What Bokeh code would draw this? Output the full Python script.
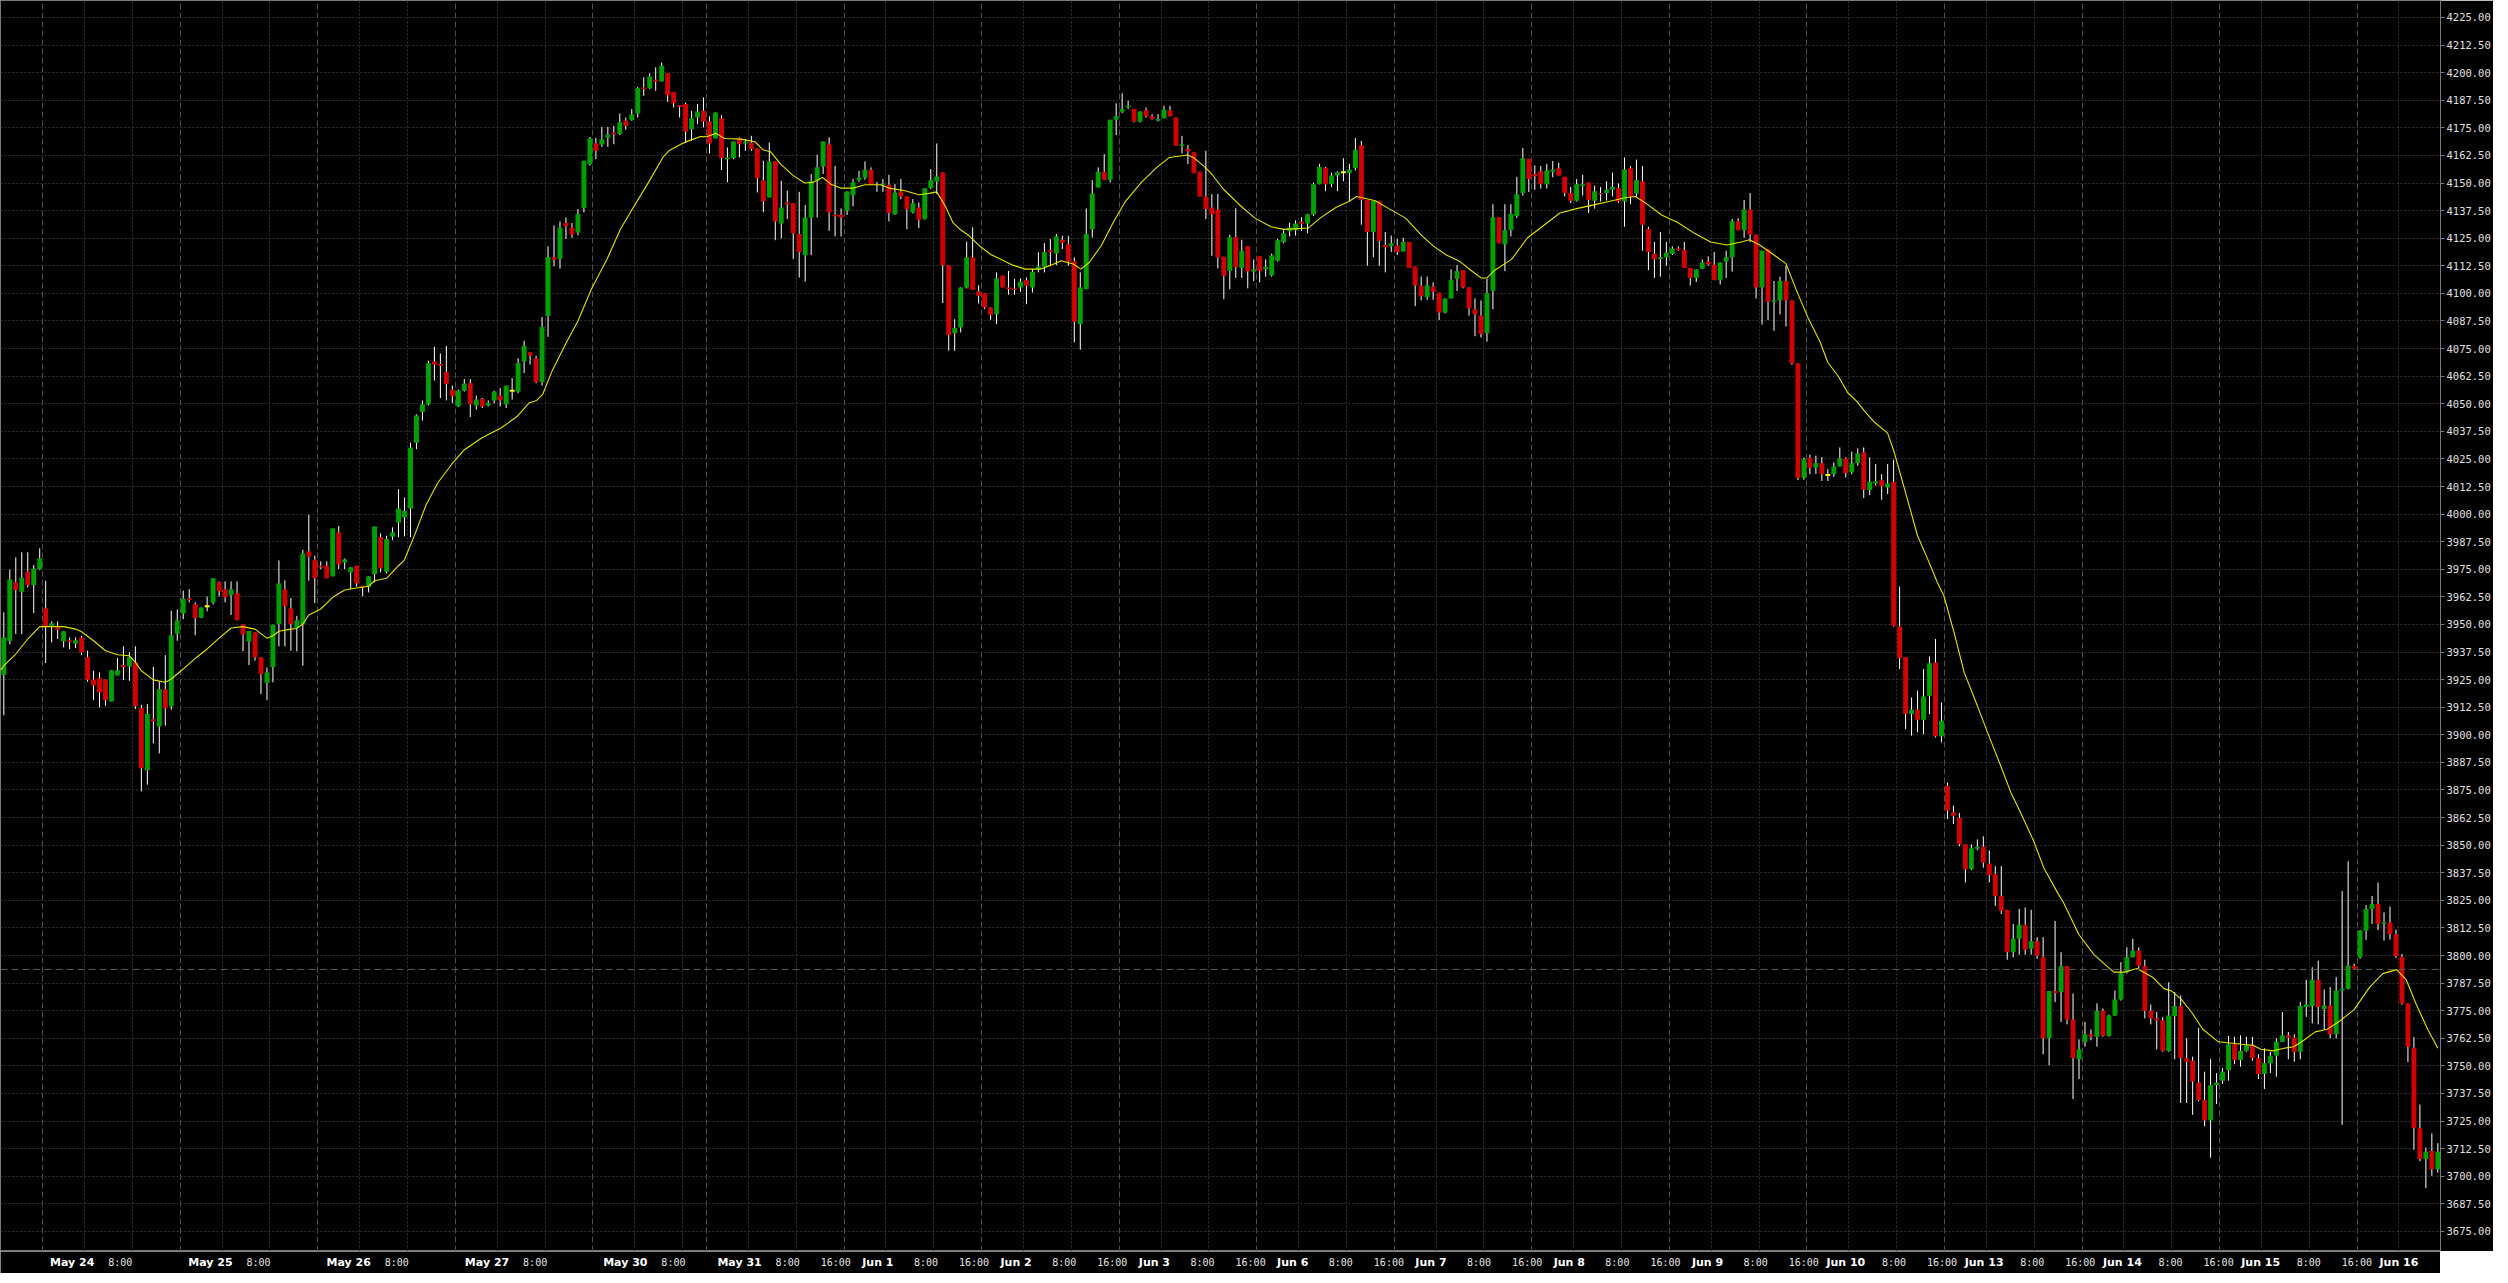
import numpy as np
from bokeh.plotting import figure
from bokeh.layouts import column
from bokeh.models import (ColumnDataSource, Range1d, FixedTicker, SingleIntervalTicker,
                          NumeralTickFormatter, Span)
from bokeh.core.properties import value
from bokeh.embed import file_html
from bokeh.resources import INLINE

# ---------------- data (hourly bars) ----------------
opens = [
3927.1, 3942.5, 3969.1, 3964.8, 3974.0, 3967.9, 3975.1, 3957.3, 3948.8, 3948.7,
3942.3, 3942.9, 3941.4, 3944.1, 3935.1, 3925.1, 3925.6, 3925.1, 3915.1, 3926.9,
3931.6, 3931.0, 3932.8, 3912.1, 3883.9, 3907.1, 3903.8, 3920.6, 3912.9, 3945.8,
3955.0, 3961.8, 3959.1, 3953.2, 3958.3, 3960.0, 3969.1, 3965.9, 3963.2, 3964.1,
3950.0, 3942.3, 3946.4, 3935.1, 3923.5, 3930.7, 3950.2, 3965.9, 3957.3, 3948.4,
3950.2, 3983.1, 3979.3, 3976.6, 3976.6, 3971.8, 3991.7, 3978.1, 3973.6, 3976.6,
3967.5, 3967.1, 3972.8, 3989.5, 3973.9, 3989.8, 3996.2, 3998.5, 4002.5, 4032.3,
4046.3, 4049.7, 4069.1, 4068.1, 4064.3, 4056.4, 4048.8, 4055.9, 4059.3, 4049.2,
4052.1, 4049.2, 4051.5, 4053.7, 4049.7, 4055.9, 4055.5, 4069.1, 4073.3, 4070.6,
4059.8, 4089.8, 4116.4, 4115.7, 4131.9, 4129.7, 4127.6, 4138.7, 4158.5, 4168.0,
4167.5, 4170.5, 4172.9, 4172.2, 4178.2, 4178.5, 4181.5, 4193.3, 4192.9, 4196.8,
4196.0, 4199.7, 4191.3, 4185.3, 4185.8, 4174.4, 4179.7, 4182.7, 4177.9, 4170.2,
4179.3, 4160.8, 4161.3, 4170.4, 4167.9, 4168.4, 4165.7, 4151.3, 4143.5, 4159.8,
4131.7, 4141.2, 4140.8, 4126.9, 4117.3, 4134.4, 4151.0, 4157.5, 4167.5, 4135.6,
4135.6, 4137.4, 4144.5, 4151.3, 4152.5, 4155.9, 4149.5, 4149.2, 4149.2, 4135.9,
4146.2, 4143.9, 4136.7, 4138.9, 4133.7, 4147.7, 4150.7, 4154.8, 4112.8, 4082.0,
4084.6, 4102.7, 4116.3, 4100.9, 4100.1, 4093.6, 4090.6, 4108.0, 4102.7, 4102.2,
4102.7, 4106.0, 4102.7, 4111.0, 4112.1, 4119.5, 4118.1, 4124.3, 4122.3, 4114.5,
4086.1, 4101.9, 4129.1, 4148.0, 4155.1, 4151.5, 4178.7, 4182.3, 4184.3, 4183.5,
4177.8, 4183.0, 4180.2, 4178.2, 4179.3, 4183.0, 4179.7, 4166.9, 4165.4, 4163.9,
4155.1, 4143.9, 4138.9, 4137.9, 4116.6, 4110.2, 4125.6, 4111.5, 4121.3, 4109.9,
4116.8, 4110.9, 4108.2, 4114.8, 4123.3, 4128.2, 4128.6, 4132.5, 4131.7, 4135.7,
4149.4, 4156.9, 4149.4, 4153.4, 4154.9, 4154.5, 4156.7, 4167.1, 4142.3, 4127.8,
4141.9, 4121.9, 4121.3, 4121.7, 4119.0, 4123.3, 4112.1, 4103.4, 4098.3, 4103.0,
4100.3, 4091.3, 4097.7, 4106.6, 4110.5, 4102.7, 4092.8, 4089.9, 4082.0, 4101.1,
4134.5, 4122.3, 4128.6, 4135.1, 4145.5, 4161.0, 4154.1, 4155.3, 4149.4, 4155.1,
4156.7, 4152.8, 4145.5, 4142.0, 4148.6, 4150.2, 4142.0, 4145.5, 4145.5, 4146.9,
4147.8, 4141.6, 4156.7, 4145.3, 4150.8, 4129.2, 4118.0, 4115.6, 4116.4, 4118.0,
4120.3, 4119.7, 4111.5, 4107.0, 4111.1, 4114.4, 4113.0, 4106.0, 4114.4, 4116.4,
4132.7, 4128.6, 4138.0, 4126.6, 4102.7, 4120.0, 4096.2, 4096.8, 4105.6, 4096.8,
4068.3, 4016.4, 4025.5, 4021.1, 4023.0, 4017.7, 4018.1, 4021.6, 4025.2, 4018.9,
4023.1, 4028.0, 4010.9, 4013.9, 4015.4, 4012.1, 4014.4, 3949.1, 3935.1, 3909.4,
3911.4, 3906.8, 3917.7, 3932.8, 3899.3, 3876.9, 3864.9, 3862.3, 3850.4, 3839.1,
3848.4, 3849.3, 3841.6, 3836.9, 3826.9, 3820.7, 3801.5, 3807.6, 3813.9, 3803.1,
3806.5, 3799.2, 3762.5, 3783.9, 3783.5, 3795.2, 3771.0, 3753.0, 3760.9, 3764.3,
3763.2, 3774.9, 3763.6, 3772.8, 3780.1, 3792.4, 3799.2, 3802.2, 3795.2, 3774.9,
3771.5, 3770.6, 3756.8, 3772.6, 3777.1, 3753.5, 3752.3, 3742.4, 3734.5, 3725.3,
3741.3, 3743.3, 3748.0, 3759.8, 3752.6, 3756.8, 3759.3, 3753.5, 3746.3, 3751.2,
3754.6, 3760.9, 3763.8, 3762.7, 3756.4, 3776.7, 3777.1, 3789.0, 3775.8, 3777.4,
3764.3, 3784.1, 3785.0, 3795.4, 3799.2, 3811.2, 3821.1, 3823.4, 3814.3, 3815.0,
3809.6, 3799.4, 3778.3, 3758.2, 3721.7, 3707.8, 3711.4, 3703.2]

highs = [
3955.5, 3974.8, 3980.4, 3982.7, 3982.7, 3976.9, 3984.5, 3969.8, 3951.4, 3951.4,
3946.9, 3944.1, 3944.1, 3944.9, 3938.1, 3929.0, 3928.3, 3925.1, 3929.2, 3934.8,
3940.1, 3937.4, 3940.1, 3913.6, 3913.9, 3930.8, 3924.2, 3936.1, 3956.2, 3956.7,
3965.3, 3966.0, 3960.0, 3957.7, 3962.7, 3970.9, 3969.5, 3969.5, 3969.5, 3969.5,
3950.0, 3947.0, 3946.4, 3935.1, 3930.5, 3949.9, 3979.0, 3970.0, 3962.0, 3953.9,
3983.9, 3999.7, 3981.2, 3978.6, 3978.6, 3993.5, 3994.7, 3979.9, 3975.9, 3976.6,
3967.5, 3971.8, 3994.4, 3991.3, 3990.2, 3994.0, 4011.3, 4007.5, 4032.3, 4045.2,
4051.5, 4069.5, 4075.8, 4072.8, 4076.2, 4058.2, 4056.4, 4061.2, 4061.2, 4053.7,
4052.6, 4051.5, 4055.9, 4057.1, 4058.2, 4061.6, 4070.6, 4078.5, 4073.3, 4071.7,
4089.3, 4121.3, 4130.8, 4132.6, 4134.4, 4131.9, 4138.2, 4160.1, 4170.9, 4170.5,
4175.4, 4175.4, 4175.9, 4181.5, 4179.7, 4183.5, 4193.6, 4197.8, 4199.7, 4202.4,
4204.6, 4199.7, 4191.3, 4185.3, 4186.5, 4182.7, 4185.8, 4188.8, 4180.2, 4182.0,
4180.8, 4166.1, 4168.8, 4170.7, 4169.9, 4171.4, 4165.7, 4160.1, 4168.4, 4159.8,
4151.0, 4146.5, 4140.8, 4146.0, 4140.0, 4154.1, 4162.8, 4168.8, 4170.7, 4157.8,
4138.5, 4146.2, 4151.8, 4155.5, 4159.8, 4157.1, 4150.6, 4151.8, 4153.7, 4149.5,
4151.8, 4143.9, 4142.7, 4141.2, 4147.6, 4156.3, 4167.9, 4154.8, 4112.8, 4088.3,
4102.7, 4123.4, 4129.9, 4103.7, 4100.1, 4093.6, 4109.5, 4108.0, 4110.2, 4106.5,
4106.8, 4107.2, 4111.0, 4118.6, 4122.8, 4124.6, 4126.9, 4126.1, 4126.1, 4116.3,
4109.5, 4138.5, 4151.3, 4157.1, 4163.1, 4178.7, 4186.1, 4190.6, 4187.3, 4183.5,
4182.4, 4184.2, 4181.2, 4181.2, 4185.0, 4185.0, 4179.7, 4171.4, 4167.2, 4163.9,
4155.1, 4164.6, 4145.0, 4145.0, 4116.6, 4126.6, 4138.6, 4124.3, 4121.3, 4115.4,
4116.8, 4115.4, 4118.0, 4124.7, 4128.6, 4132.1, 4133.1, 4134.5, 4136.1, 4150.2,
4158.7, 4157.3, 4154.7, 4155.3, 4161.2, 4158.7, 4170.4, 4169.1, 4142.3, 4141.9,
4141.9, 4127.8, 4126.2, 4124.7, 4125.2, 4123.3, 4112.1, 4107.6, 4107.6, 4105.0,
4100.3, 4097.7, 4110.9, 4112.9, 4110.5, 4102.7, 4097.7, 4096.8, 4106.6, 4140.4,
4134.5, 4140.4, 4140.4, 4152.8, 4165.9, 4161.0, 4158.0, 4157.7, 4158.7, 4160.0,
4159.2, 4152.8, 4148.2, 4151.8, 4153.7, 4150.2, 4148.8, 4148.2, 4150.8, 4154.7,
4149.8, 4161.6, 4157.7, 4160.6, 4157.7, 4130.2, 4123.3, 4127.8, 4123.3, 4121.3,
4121.3, 4123.3, 4111.5, 4110.9, 4115.4, 4116.8, 4118.8, 4114.0, 4119.3, 4133.7,
4134.1, 4142.3, 4145.5, 4126.6, 4119.3, 4120.0, 4105.6, 4107.6, 4112.5, 4096.8,
4068.3, 4025.6, 4026.9, 4026.5, 4025.8, 4020.4, 4023.4, 4030.2, 4025.7, 4028.3,
4029.8, 4030.2, 4025.7, 4022.7, 4018.1, 4022.7, 4024.6, 3967.2, 3935.1, 3916.9,
3920.0, 3929.8, 3935.5, 3943.4, 3914.7, 3878.4, 3867.9, 3864.6, 3850.4, 3850.4,
3852.6, 3854.0, 3847.7, 3840.5, 3840.5, 3820.7, 3814.3, 3821.1, 3821.8, 3820.7,
3808.3, 3808.3, 3783.9, 3815.7, 3801.5, 3795.2, 3782.8, 3762.0, 3769.9, 3766.5,
3778.3, 3776.0, 3773.3, 3784.1, 3797.0, 3803.7, 3807.6, 3803.7, 3798.1, 3777.8,
3774.4, 3772.2, 3787.9, 3783.5, 3781.9, 3762.5, 3754.2, 3767.2, 3747.4, 3753.0,
3746.7, 3749.0, 3763.6, 3763.2, 3763.9, 3763.2, 3763.2, 3755.3, 3758.0, 3756.4,
3762.5, 3774.4, 3765.4, 3764.3, 3778.9, 3789.0, 3794.7, 3797.7, 3784.6, 3785.7,
3790.2, 3829.2, 3842.7, 3796.3, 3811.6, 3822.9, 3827.0, 3833.1, 3819.5, 3822.2,
3811.7, 3800.7, 3778.3, 3763.0, 3732.5, 3713.0, 3719.4, 3715.0]

lows = [
3908.9, 3941.0, 3945.7, 3945.6, 3966.8, 3955.2, 3974.8, 3932.5, 3941.9, 3943.4,
3939.6, 3938.9, 3939.3, 3936.1, 3924.1, 3915.7, 3912.4, 3913.2, 3915.1, 3926.9,
3924.8, 3924.5, 3911.7, 3874.4, 3877.4, 3896.1, 3891.6, 3904.1, 3911.4, 3942.6,
3952.4, 3960.0, 3945.1, 3952.9, 3955.9, 3959.1, 3962.7, 3960.0, 3954.3, 3951.8,
3937.8, 3931.6, 3933.6, 3918.5, 3915.7, 3923.8, 3940.1, 3940.1, 3938.1, 3937.8,
3931.3, 3969.8, 3959.7, 3975.1, 3970.9, 3971.8, 3975.1, 3975.1, 3966.0, 3967.1,
3962.7, 3964.5, 3969.1, 3973.6, 3973.1, 3988.2, 3989.5, 3989.9, 3989.5, 4029.4,
4042.4, 4049.2, 4060.5, 4052.6, 4051.5, 4050.3, 4048.5, 4055.5, 4044.0, 4047.4,
4048.1, 4048.8, 4050.3, 4048.8, 4048.1, 4051.9, 4054.8, 4063.9, 4067.7, 4059.3,
4058.2, 4080.3, 4112.3, 4111.2, 4124.7, 4125.2, 4126.3, 4136.7, 4157.8, 4160.8,
4166.4, 4166.4, 4167.6, 4171.7, 4174.1, 4178.2, 4179.7, 4189.5, 4192.6, 4191.8,
4196.0, 4186.8, 4184.2, 4179.7, 4168.4, 4169.1, 4176.7, 4175.2, 4163.4, 4170.2,
4155.9, 4150.3, 4160.8, 4161.6, 4164.6, 4164.6, 4145.7, 4136.7, 4143.5, 4124.1,
4124.9, 4133.7, 4115.5, 4107.2, 4105.4, 4117.3, 4134.4, 4154.1, 4128.4, 4125.8,
4125.8, 4135.5, 4139.4, 4150.6, 4151.5, 4149.2, 4146.0, 4146.0, 4132.6, 4135.6,
4142.7, 4129.1, 4136.2, 4129.6, 4133.4, 4147.2, 4145.0, 4095.6, 4074.0, 4074.0,
4082.3, 4102.2, 4101.6, 4095.4, 4092.9, 4088.0, 4086.1, 4102.7, 4099.4, 4099.4,
4100.7, 4095.1, 4100.4, 4109.5, 4109.5, 4112.8, 4112.8, 4120.1, 4112.5, 4077.8,
4074.5, 4101.9, 4125.3, 4148.0, 4151.5, 4150.3, 4171.7, 4181.7, 4183.5, 4177.5,
4177.5, 4179.7, 4178.7, 4177.9, 4179.3, 4180.2, 4166.9, 4163.4, 4158.6, 4154.5,
4143.9, 4133.7, 4117.0, 4111.3, 4097.4, 4101.9, 4107.0, 4107.0, 4102.3, 4105.6,
4105.0, 4107.6, 4107.6, 4114.4, 4122.7, 4125.8, 4126.2, 4128.2, 4127.2, 4135.1,
4149.4, 4146.3, 4148.2, 4146.3, 4150.8, 4141.6, 4155.7, 4131.1, 4112.5, 4116.4,
4112.5, 4109.5, 4118.8, 4117.4, 4119.0, 4111.5, 4094.2, 4096.8, 4097.1, 4097.1,
4087.9, 4090.9, 4097.7, 4101.1, 4102.3, 4089.9, 4080.6, 4080.0, 4078.1, 4092.8,
4122.7, 4110.1, 4125.8, 4134.1, 4144.3, 4145.9, 4146.9, 4147.5, 4147.5, 4152.6,
4153.4, 4143.9, 4141.0, 4141.6, 4144.3, 4136.4, 4138.4, 4141.6, 4142.0, 4143.9,
4141.0, 4130.2, 4140.4, 4143.9, 4119.3, 4110.5, 4107.0, 4107.6, 4112.5, 4117.4,
4119.3, 4111.5, 4103.6, 4105.2, 4110.9, 4112.5, 4106.0, 4104.0, 4107.0, 4109.9,
4128.6, 4125.2, 4123.3, 4097.7, 4085.9, 4087.9, 4083.0, 4090.5, 4085.0, 4067.7,
4015.4, 4015.6, 4018.1, 4018.2, 4015.0, 4015.0, 4016.9, 4021.6, 4016.6, 4018.1,
4021.9, 4007.3, 4008.6, 4012.9, 4006.5, 4009.1, 3949.0, 3929.8, 3902.6, 3899.6,
3901.1, 3900.3, 3909.4, 3898.8, 3896.6, 3861.8, 3859.6, 3849.5, 3833.1, 3838.7,
3847.7, 3839.8, 3833.1, 3822.5, 3818.8, 3798.1, 3799.2, 3800.4, 3800.4, 3800.4,
3798.5, 3755.3, 3750.3, 3778.9, 3769.9, 3768.8, 3735.0, 3744.0, 3758.7, 3761.6,
3758.7, 3763.2, 3763.2, 3772.6, 3779.6, 3791.8, 3799.2, 3794.1, 3771.5, 3768.8,
3757.5, 3756.4, 3756.4, 3753.0, 3733.2, 3733.2, 3727.8, 3733.9, 3722.6, 3708.4,
3732.7, 3741.8, 3743.3, 3750.8, 3749.6, 3756.4, 3752.3, 3744.0, 3739.5, 3746.7,
3745.1, 3760.9, 3753.0, 3751.9, 3753.0, 3772.2, 3769.3, 3768.8, 3766.6, 3762.5,
3762.5, 3723.3, 3784.6, 3793.6, 3798.5, 3807.1, 3814.3, 3811.5, 3806.7, 3807.2,
3798.8, 3777.7, 3751.7, 3712.0, 3706.8, 3694.6, 3700.2, 3701.7]

closes = [
3944.1, 3970.4, 3965.6, 3971.2, 3967.9, 3975.4, 3979.9, 3948.7, 3950.5, 3947.6,
3946.9, 3942.0, 3942.8, 3937.3, 3925.0, 3922.4, 3919.2, 3915.7, 3929.2, 3929.2,
3930.7, 3935.1, 3912.9, 3884.8, 3909.4, 3906.1, 3920.6, 3912.0, 3945.1, 3951.8,
3961.8, 3961.1, 3952.9, 3957.7, 3958.3, 3970.9, 3965.0, 3962.3, 3965.9, 3952.0,
3945.5, 3947.0, 3935.1, 3927.5, 3928.3, 3949.9, 3968.6, 3958.3, 3950.2, 3951.9,
3982.2, 3980.7, 3971.0, 3975.9, 3971.0, 3993.5, 3977.2, 3979.5, 3975.9, 3968.6,
3966.8, 3971.8, 3994.4, 3975.4, 3988.7, 3991.7, 4002.5, 4001.4, 4030.1, 4044.7,
4049.7, 4068.4, 4067.7, 4067.2, 4058.9, 4053.5, 4055.9, 4059.1, 4049.7, 4051.9,
4048.8, 4050.3, 4055.5, 4051.5, 4058.2, 4055.9, 4068.4, 4076.2, 4071.7, 4059.8,
4084.8, 4116.4, 4115.2, 4129.9, 4130.3, 4126.7, 4136.0, 4160.1, 4170.2, 4164.6,
4169.8, 4172.0, 4172.0, 4177.5, 4175.8, 4181.1, 4192.9, 4192.6, 4198.3, 4196.0,
4203.1, 4189.8, 4186.1, 4184.6, 4173.4, 4179.3, 4182.4, 4177.9, 4167.9, 4182.0,
4161.3, 4161.6, 4168.8, 4167.6, 4168.7, 4165.4, 4152.2, 4141.7, 4159.8, 4132.6,
4138.9, 4140.4, 4127.3, 4118.6, 4134.4, 4151.0, 4157.1, 4168.8, 4136.7, 4134.9,
4134.4, 4146.2, 4150.3, 4152.5, 4156.0, 4149.2, 4149.2, 4149.7, 4136.4, 4145.7,
4143.8, 4138.2, 4140.8, 4133.4, 4147.6, 4151.3, 4153.0, 4112.8, 4081.1, 4084.3,
4102.7, 4116.3, 4101.6, 4098.9, 4093.6, 4090.2, 4106.8, 4102.7, 4101.9, 4101.5,
4105.3, 4103.4, 4109.8, 4112.2, 4118.6, 4118.6, 4125.8, 4122.8, 4114.3, 4087.1,
4102.7, 4126.9, 4145.3, 4155.1, 4151.5, 4178.7, 4180.2, 4183.5, 4185.0, 4177.9,
4182.4, 4180.2, 4179.0, 4179.0, 4183.3, 4180.2, 4166.9, 4167.6, 4164.3, 4154.5,
4143.9, 4138.2, 4135.9, 4116.3, 4108.0, 4125.4, 4111.9, 4119.3, 4109.9, 4110.9,
4110.1, 4111.9, 4117.2, 4124.1, 4127.2, 4129.8, 4131.7, 4131.5, 4135.7, 4149.4,
4157.3, 4149.4, 4153.4, 4154.9, 4154.9, 4156.1, 4165.1, 4142.3, 4127.8, 4141.9,
4123.9, 4120.9, 4122.7, 4118.8, 4123.3, 4111.5, 4103.6, 4098.7, 4103.6, 4100.7,
4091.3, 4097.7, 4106.0, 4110.1, 4102.7, 4093.2, 4090.5, 4081.6, 4100.1, 4134.5,
4122.7, 4128.6, 4136.1, 4144.9, 4161.2, 4151.8, 4153.1, 4149.4, 4155.7, 4156.1,
4153.4, 4145.5, 4142.0, 4149.4, 4149.4, 4142.3, 4146.3, 4144.9, 4146.9, 4148.2,
4141.6, 4156.1, 4143.9, 4151.4, 4131.1, 4118.8, 4115.4, 4116.4, 4118.4, 4120.3,
4119.5, 4111.5, 4107.0, 4110.9, 4114.0, 4113.1, 4106.0, 4114.0, 4116.4, 4132.7,
4128.6, 4138.0, 4126.6, 4102.7, 4119.3, 4096.2, 4096.8, 4105.6, 4096.8, 4068.3,
4016.4, 4024.9, 4021.0, 4023.1, 4018.1, 4017.7, 4021.6, 4025.2, 4018.6, 4023.1,
4027.5, 4011.0, 4014.7, 4014.8, 4012.6, 4013.9, 3949.4, 3934.8, 3909.4, 3911.4,
3906.8, 3917.4, 3932.4, 3899.3, 3906.4, 3865.6, 3863.3, 3850.4, 3839.1, 3848.6,
3849.3, 3842.1, 3836.4, 3826.9, 3820.2, 3801.5, 3807.6, 3813.9, 3802.6, 3806.5,
3799.9, 3762.5, 3783.9, 3783.0, 3795.2, 3771.0, 3753.5, 3757.5, 3764.3, 3763.2,
3774.9, 3763.6, 3772.8, 3780.1, 3792.0, 3799.2, 3802.2, 3795.4, 3774.9, 3771.5,
3770.6, 3756.8, 3772.8, 3777.1, 3753.5, 3751.9, 3742.9, 3734.5, 3725.3, 3741.3,
3742.4, 3747.4, 3759.8, 3752.6, 3756.8, 3759.3, 3753.5, 3746.3, 3751.2, 3754.6,
3760.9, 3763.8, 3762.7, 3756.4, 3777.1, 3777.8, 3789.0, 3776.7, 3777.4, 3764.3,
3784.1, 3785.0, 3795.4, 3794.0, 3811.2, 3821.1, 3823.4, 3814.3, 3815.0, 3809.7,
3799.7, 3778.3, 3758.7, 3721.8, 3707.8, 3711.1, 3703.2, 3711.1]

# moving-average line (bar position, value)
ma_bar = [
-0.55, 0, 2, 4, 6, 8, 10, 12, 13, 15, 17, 19, 21, 22, 23, 25, 27, 28, 30, 32, 34, 36, 38,
40, 42, 44, 45, 46, 48, 49, 50, 51, 53, 55, 57, 59, 61, 62, 64, 66, 67, 68.7, 70.6, 72.6,
74.9, 76.9, 79.9, 83.2, 85.8, 87.8, 89.1, 90.1, 91.7, 94, 96, 98.3, 100.9, 103.1, 105.1,
107.8, 110.2, 111.2, 113.2, 114.5, 116.5, 117.5, 119.1, 120.5, 123.2, 125.6, 126.9, 128.2,
129.9, 131.9, 133.9, 135.3, 136.9, 138.3, 139.9, 142, 144, 146.6, 148, 150.7, 153, 154.7,
156, 157.4, 158.7, 160, 161.4, 163.1, 165.1, 166.7, 168.7, 170.8, 173.4, 175.1, 176.8,
178.8, 180.1, 181.5, 183.5, 185.5, 187.5, 190.2, 192.8, 194.9, 197.9, 198.9, 200.9, 202.2,
203.9, 206.5, 209.2, 211.9, 214, 218.1, 220.1, 222.8, 224.9, 226.2, 227.9, 229.3, 231.6,
234.4, 237.1, 239.1, 241.2, 243.5, 245.3, 247, 248, 249.3, 252.1, 254.8, 257.2, 260.2, 263,
265.7, 268.4, 271.1, 272.8, 274.5, 277.2, 279.9, 282.7, 285.4, 288.1, 290.5, 291.9, 293.6,
296, 298, 299.7, 301.7, 303.7, 305, 306.7, 308.3, 310, 311.1, 312.8, 315, 316.1, 317.2,
318.3, 320, 321.7, 323.3, 324.4, 326.1, 327.8, 330, 331.7, 333.9, 335.6, 337.2, 339.4,
341.1, 343.4, 344.4, 347, 349.5, 352.8, 354.7, 356.7, 359.3, 361.2, 362.5, 364.1, 365.8,
367.7, 370.3, 374.2, 376.1, 377.4, 379.4, 381.3, 382.9, 384.6, 386.5, 388.5, 390.4, 393,
395.6, 397.8, 400.1, 401.7, 403.4, 405.3, 407]
ma_value = [
3929.3, 3931.3, 3936.6, 3943.4, 3949.0, 3949.0, 3949.0, 3947.9, 3946.7, 3942.6, 3938.1,
3936.3, 3935.8, 3932.8, 3929.0, 3924.9, 3923.8, 3925.3, 3929.8, 3934.6, 3938.9, 3943.8,
3948.4, 3949.0, 3947.9, 3943.8, 3944.9, 3946.9, 3947.9, 3948.2, 3950.2, 3954.3, 3957.0,
3962.3, 3965.6, 3966.5, 3967.3, 3969.8, 3970.9, 3976.6, 3979.3, 3990.6, 4004.1, 4014.3,
4022.6, 4028.9, 4034.5, 4039.1, 4044.2, 4050.3, 4051.5, 4054.2, 4065.0, 4077.4, 4087.5,
4102.2, 4115.7, 4129.1, 4138.2, 4150.3, 4161.6, 4164.6, 4167.6, 4169.1, 4171.1, 4171.0,
4172.5, 4170.2, 4169.9, 4168.7, 4165.1, 4164.2, 4158.6, 4153.6, 4150.0, 4150.3, 4152.5,
4149.5, 4147.7, 4147.7, 4149.2, 4149.2, 4147.7, 4146.5, 4144.7, 4145.3, 4146.0, 4139.7,
4132.1, 4128.8, 4126.1, 4121.6, 4117.5, 4115.5, 4112.8, 4111.0, 4111.0, 4112.8, 4114.8,
4113.3, 4111.0, 4114.0, 4121.6, 4132.1, 4141.5, 4150.3, 4157.1, 4161.6, 4162.7, 4161.6,
4157.1, 4153.3, 4147.3, 4140.4, 4134.1, 4130.2, 4129.0, 4129.6, 4134.1, 4139.0, 4141.6,
4143.9, 4142.9, 4142.0, 4138.4, 4134.1, 4126.2, 4121.3, 4117.4, 4114.4, 4110.5, 4107.0,
4107.0, 4110.5, 4115.4, 4125.2, 4130.2, 4136.4, 4138.4, 4140.0, 4141.6, 4143.3, 4143.9,
4141.0, 4135.5, 4132.1, 4127.2, 4123.3, 4121.9, 4123.3, 4124.3, 4121.9, 4117.4, 4113.5,
4101.7, 4088.9, 4078.1, 4068.7, 4062.7, 4055.1, 4050.6, 4046.8, 4041.6, 4036.7, 4028.0,
4017.4, 4006.8, 3990.2, 3979.6, 3969.1, 3963.0, 3946.4, 3928.3, 3913.2, 3901.1, 3886.0,
3873.9, 3864.9, 3852.0, 3839.8, 3828.5, 3824.0, 3809.4, 3800.4, 3792.5, 3792.5, 3794.1,
3790.2, 3785.0, 3783.9, 3780.1, 3774.4, 3766.6, 3760.9, 3759.8, 3759.3, 3757.5, 3756.8,
3758.0, 3758.7, 3761.6, 3765.4, 3766.6, 3769.9, 3775.5, 3785.7, 3791.8, 3793.6, 3789.1,
3777.8, 3766.6, 3758.0]

# calendar of the bars: a few bars before the first session, then trading sessions
pre_session_bars = 7
session_days = ["May 24", "May 25", "May 26", "May 27", "May 30", "May 31", "Jun 1", "Jun 2",
                "Jun 3", "Jun 6", "Jun 7", "Jun 8", "Jun 9", "Jun 10", "Jun 13", "Jun 14",
                "Jun 15", "Jun 16"]
session_bars = [23, 23, 23, 23, 19, 23, 23, 23, 23, 23, 23, 23, 23, 23, 23, 23, 23, 14]
bars_to_midnight = 7
bars_to_eight = 15
morning_label = "8:00"
close_label = "16:00"
close_labelled = [False, False, False, False, False, True, True, True, True, True, True,
                  True, True, True, True, True, True, False]
marker_level = 3793.7

# ---------------- figure ----------------
o = np.array(opens); h = np.array(highs); l = np.array(lows); c = np.array(closes)
n = len(o)
xs = np.arange(n)

Y0, Y1 = 3665.9, 4232.7
X0, X1 = -0.555, n - 0.555
FW, FH = 2440, 1251
GRAY = "#7a7a7a"

xr = Range1d(X0, X1)
p = figure(frame_width=FW, frame_height=FH, x_range=xr, y_range=Range1d(Y0, Y1),
           x_axis_location=None, y_axis_location="right", toolbar_location=None,
           output_backend="svg", background_fill_color="#000000",
           border_fill_color="#000000", min_border=0)
p.outline_line_color = GRAY

# session geometry
starts = []
s = pre_session_bars - 0.5
for b in session_bars:
    starts.append(s)
    s += b
starts = np.array(starts)
ends = starts + np.array(session_bars)
midn = starts + bars_to_midnight
eight = starts + bars_to_eight

def inside(v):
    return [float(t) for t in v if X0 < t < X1]

major_grid = inside(starts)
minor_grid = inside(np.concatenate([midn, eight[eight < ends]]))

p.xgrid.ticker = FixedTicker(ticks=major_grid, minor_ticks=minor_grid)
p.xgrid.grid_line_color = "#4e4e4e"
p.xgrid.grid_line_dash = "6 3"
p.xgrid.minor_grid_line_color = "#333333"
p.xgrid.minor_grid_line_dash = "2 2"
p.ygrid.grid_line_color = "#333333"
p.ygrid.grid_line_dash = "2 2"

# price axis
p.yaxis.ticker = SingleIntervalTicker(interval=12.5, num_minor_ticks=0)
p.ygrid.ticker = p.yaxis.ticker
p.yaxis.formatter = NumeralTickFormatter(format="0.00")
p.yaxis.axis_line_color = GRAY
p.yaxis.major_tick_line_color = GRAY
p.yaxis.major_tick_out = 4
p.yaxis.major_tick_in = 0
p.yaxis.minor_tick_line_color = None
p.yaxis.major_label_text_font = "DejaVu Sans Mono"
p.yaxis.major_label_text_font_size = "10.5px"
p.yaxis.major_label_text_color = "#e0e0e0"
p.yaxis.major_label_standoff = 2

p.add_layout(Span(location=marker_level, dimension="width", line_color="#5c5c5c",
                  line_dash="7 4", line_width=1))

# candles
colors = np.where(c > o, "#00a000", "#d20000")
body = c != o
src = ColumnDataSource(dict(x=xs, h=h, l=l))
p.segment(x0="x", y0="h", x1="x", y1="l", source=src, line_color="#ffffff", line_width=1)
bsrc = ColumnDataSource(dict(x=xs[body], top=np.maximum(o, c)[body],
                             bot=np.minimum(o, c)[body], col=colors[body]))
p.vbar(x="x", width=0.82, top="top", bottom="bot", source=bsrc, fill_color="col",
       line_color=None)
dsrc = ColumnDataSource(dict(x=xs[~body], y=o[~body]))
p.rect(x="x", y="y", width=0.82, height=2, height_units="screen", source=dsrc,
       fill_color="#ffff00", line_color=None)

p.line(ma_bar, ma_value, line_color="#e4e400", line_width=1.1)

# ---------------- time-label strip under the chart ----------------
def shift(g):
    return g - 2.07 * (400.5 - g) / 387.0

strip = figure(frame_width=FW, frame_height=22, x_range=xr, y_range=Range1d(0, 1),
               x_axis_location=None, y_axis_location=None, toolbar_location=None,
               output_backend="svg", background_fill_color="#000000",
               border_fill_color="#000000", min_border=0)
strip.outline_line_color = None
strip.grid.visible = False

day_x = [shift(float(m)) for m in midn if X0 < m < X1]
day_t = [d for d, m in zip(session_days, midn) if X0 < m < X1]
strip.text(x=day_x, y=[0.5] * len(day_x), text=day_t, text_align="center",
           text_baseline="middle", text_font=value("DejaVu Sans"), text_font_style="bold",
           text_font_size=value("11px"), text_color="#ffffff")

hx, ht = [], []
for k in range(len(session_bars)):
    if eight[k] < ends[k] and eight[k] < X1:
        hx.append(shift(float(eight[k]))); ht.append(morning_label)
    if close_labelled[k]:
        hx.append(shift(float(ends[k]))); ht.append(close_label)
strip.text(x=hx, y=[0.5] * len(hx), text=ht, text_align="center", text_baseline="middle",
           text_font=value("DejaVu Sans Mono"), text_font_size=value("10px"),
           text_color="#e6e6e6")

layout = column(p, strip, spacing=0)
open("out.html", "w").write(file_html(layout, INLINE, title="chart"))
